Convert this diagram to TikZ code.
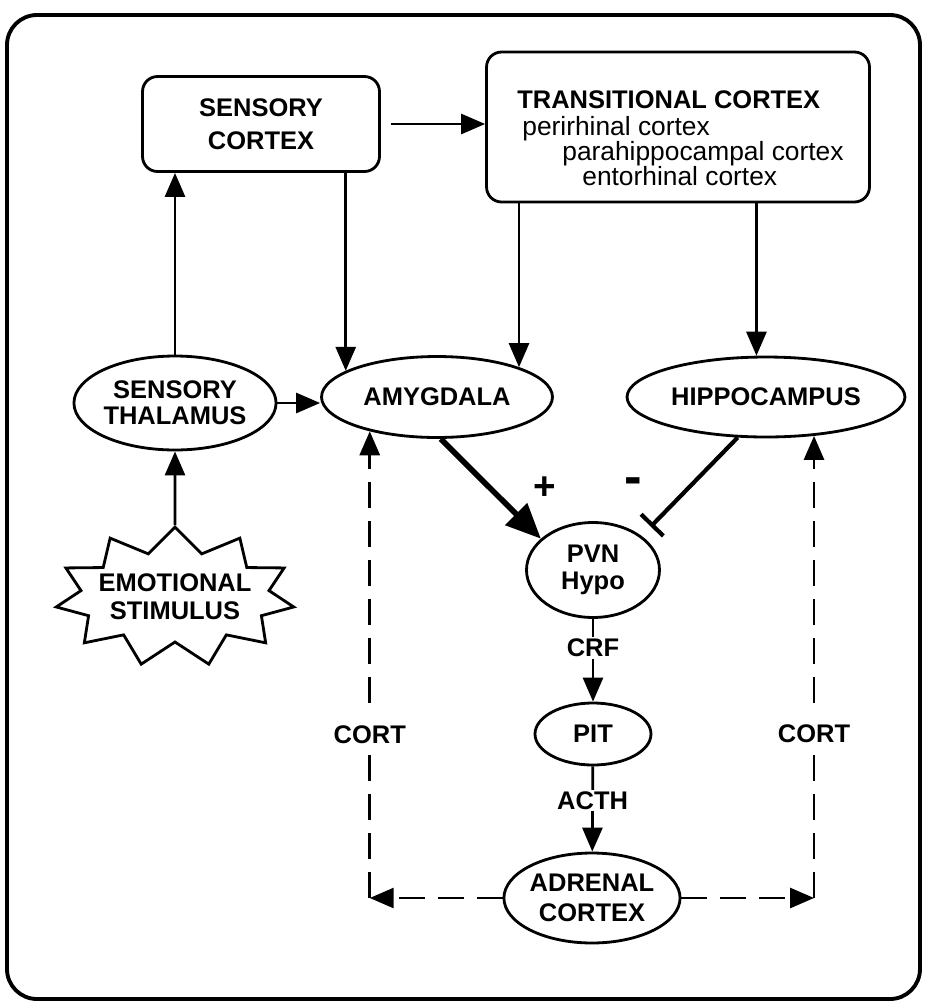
\documentclass[tikz,border=0pt]{standalone}
\usepackage{fontspec}
\setmainfont{Liberation Sans}
\usetikzlibrary{arrows.meta, positioning, shapes.geometric, shapes.symbols}

\begin{document}
\begin{tikzpicture}[x = 0.02cm, y = -0.02cm,
        lbl/.style = {font=\bfseries\fontsize{14.5}{15}\selectfont, align=center, inner sep=1pt},
        sub/.style = {font=\fontsize{15}{15}\selectfont, anchor=base west, inner sep=0pt},
        oval/.style = {lbl, draw, ellipse, line width=1.6pt, inner sep=0pt},
        box/.style = {draw, rounded corners=0.3cm, line width=1.6pt},
        arr/.style = {line width=1.6pt, -{Triangle[length=0.48cm, width=0.4cm]}},
        fat/.style = {line width=3.2pt, -{Triangle[length=0.7cm, width=0.6cm]}},
        stopper/.style = {line width=2.4pt, -{Bar[width=0.62cm]}},
        back/.style = {arr, dash pattern=on 0.52cm off 0.26cm}]

            \useasboundingbox (0,0) rectangle (925,1002);
            \draw[line width=2.2pt, rounded corners=0.6cm] (7,15) rectangle (920,999);

            \node[box, lbl, minimum width=4.74cm, minimum height=1.9cm] (scort) at (261,124) {SENSORY\\[4pt]CORTEX};
            \node[box, minimum width=7.66cm, minimum height=3cm] (trans) at (678,127) {};
            \node[lbl, anchor=base west, inner sep=0pt] (transname) at (517,108) {TRANSITIONAL CORTEX};
            \node[sub] (peri) at (522,135) {perirhinal cortex};
            \node[sub] (para) at (562,160) {parahippocampal cortex};
            \node[sub] (ento) at (582,185) {entorhinal cortex};

            \node[oval, minimum width=3.72cm, minimum height=1.88cm] (thal) at (175,403) {SENSORY\\THALAMUS};
            \node[oval, minimum width=4.62cm, minimum height=1.62cm] (amyg) at (437,397) {AMYGDALA};
            \node[oval, minimum width=5.56cm, minimum height=1.6cm] (hippo) at (766,397) {HIPPOCAMPUS};
            \node[lbl, draw, starburst, starburst points=11, starburst point height=0.5cm, random starburst=0,
                inner xsep=-0.3cm, inner ysep=-0.1cm, line width=1.6pt,
                minimum width=4.8cm, minimum height=2.8cm] (stim) at (175,597) {EMOTIONAL\\[1pt]STIMULUS};

            \node[oval, minimum width=2.66cm, minimum height=1.9cm] (pvn) at (593,570) {PVN\\Hypo};
            \node[oval, minimum width=2.32cm, minimum height=1.24cm] (pit) at (593,734) {PIT};
            \node[oval, minimum width=3.08cm, minimum height=1.8cm] (adr) at (592,898) {ADRENAL\\[2pt]CORTEX};

            \node[font=\bfseries\fontsize{22}{22}\selectfont] (plus) at (545,488) {+};
            \node[font=\bfseries\fontsize{30}{30}\selectfont] (minus) at (633,486) {-};

            \draw[arr] (thal.north) -- (thal.north |- scort.south);
            \draw[arr, shorten <=0.2cm] (scort.east) -- (scort.east -| trans.west);
            \draw[arr] (amyg.164 |- scort.south) -- (amyg.164);
            \draw[arr] (amyg.20 |- trans.south) -- (amyg.20);
            \draw[arr] (hippo.103 |- trans.south) -- (hippo.103);
            \draw[arr] (stim) -- (thal);
            \draw[arr] (thal) -- (thal -| amyg.west);
            \draw[fat] (amyg.-85) -- (pvn.149);
            \draw[stopper, shorten >=0.26cm] (hippo.-125) -- (pvn.35);

            \draw[arr] (pvn) -- node[lbl, fill=white, pos=0.35] (crf) {CRF} (pit);
            \draw[arr] (pit) -- node[lbl, fill=white, pos=0.4] (acth) {ACTH} (adr);

            \coordinate (lcorner) at (amyg.-153 |- adr.west);
            \coordinate (rcorner) at (hippo.-39 |- adr.east);
            \draw[back] (adr.west) -- (lcorner);
            \draw[back] (lcorner) -- node[lbl, fill=white, pos=0.35, inner ysep=0.2cm] (lcort) {CORT} (amyg.-153);
            \draw[back] (adr.east) -- (rcorner);
            \draw[back] (rcorner) -- node[lbl, fill=white, pos=0.355, inner ysep=0.2cm] (rcort) {CORT} (hippo.-39);
\end{tikzpicture}
\end{document}
